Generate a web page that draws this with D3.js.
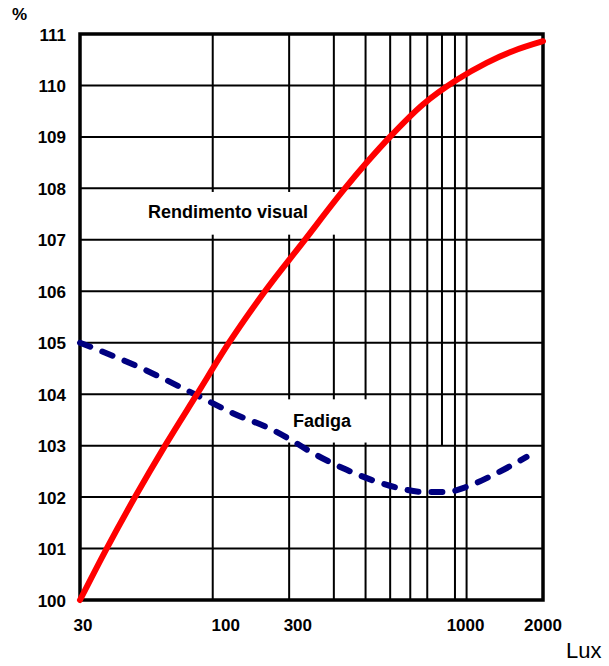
<!DOCTYPE html>
<html>
<head>
<meta charset="utf-8">
<script src="https://cdn.jsdelivr.net/npm/d3@7"></script>
<style>
  html, body { margin: 0; padding: 0; background: #fff; }
  svg { display: block; }
  text { font-family: "Liberation Sans", Arial, sans-serif; }
</style>
</head>
<body>
<svg id="chart" width="609" height="666"></svg>
<script>
// ---- data ----
const luxTicks = [30, 100, 300, 1000, 2000];
const tickLabels = ["30", "100", "300", "1000", "2000"];
const gridLux = [100, 200, 300, 400, 500, 600, 700, 800, 900, 1000];
const percentTicks = [100, 101, 102, 103, 104, 105, 106, 107, 108, 109, 110, 111];

const rendLux = [30, 38.2, 49.4, 64.9, 86.7, 115.9, 160.6, 229, 328, 409, 499, 673, 916, 1199, 1527, 2000];
const rendVal = [100, 101.0, 102.0, 103.0, 104.0, 105.0, 106.0, 106.98, 107.97, 108.53, 109.0, 109.63, 110.11, 110.44, 110.67, 110.86];

const fadLux = [30, 50, 86.5, 120, 173, 205, 249, 337, 442, 546, 675, 834, 1000, 1273, 1723];
const fadVal = [105.0, 104.55, 103.98, 103.63, 103.3, 103.1, 102.85, 102.53, 102.3, 102.17, 102.1, 102.1, 102.2, 102.43, 102.78];

// ---- layout / style ----
const layout = {
  left: 80, right: 543, top: 34, bottom: 600,
  tickLabelNudge: [3, 13, -36, -1, 0],   // pixel nudges of x tick labels as in original
  tickLabelY: 631,
  yLabelX: 66
};

const svg = d3.select("#chart");
const x = d3.scaleLog().domain([30, 2000]).range([layout.left, layout.right]);
const y = d3.scaleLinear().domain([100, 111]).range([layout.bottom, layout.top]);

// vertical grid lines (800 line stops at the 103 level in the original)
const gridStop = {800: 103};
svg.append("g").selectAll("line").data(gridLux).join("line")
  .attr("x1", d => x(d)).attr("x2", d => x(d))
  .attr("y1", y(111))
  .attr("y2", d => gridStop[d] ? y(gridStop[d]) : y(100))
  .attr("stroke", "#000").attr("stroke-width", 2);

// horizontal grid lines
svg.append("g").selectAll("line").data(percentTicks.slice(1, -1)).join("line")
  .attr("x1", x(30)).attr("x2", x(2000))
  .attr("y1", d => y(d)).attr("y2", d => y(d))
  .attr("stroke", "#000").attr("stroke-width", 2);

// white boxes behind the curve labels
svg.append("rect").attr("x", 140).attr("y", y(107.93)).attr("width", 210)
  .attr("height", y(107.1) - y(107.93)).attr("fill", "#fff");
svg.append("rect").attr("x", 280).attr("y", y(103.9)).attr("width", 100)
  .attr("height", y(103.06) - y(103.9)).attr("fill", "#fff");

// frame
svg.append("rect")
  .attr("x", x(30)).attr("y", y(111))
  .attr("width", x(2000) - x(30)).attr("height", y(100) - y(111))
  .attr("fill", "none").attr("stroke", "#000").attr("stroke-width", 3.5);

// curves
const line = d3.line().curve(d3.curveMonotoneX).x(d => x(d[0])).y(d => y(d[1]));

svg.append("path")
  .datum(fadLux.map((l, i) => [l, fadVal[i]]))
  .attr("d", line)
  .attr("fill", "none").attr("stroke", "#000080").attr("stroke-width", 6)
  .attr("stroke-linecap", "round").attr("stroke-dasharray", "11,13");

svg.append("path")
  .datum(rendLux.map((l, i) => [l, rendVal[i]]))
  .attr("d", line)
  .attr("fill", "none").attr("stroke", "#ff0000").attr("stroke-width", 6)
  .attr("stroke-linecap", "round");

// y tick labels
svg.append("g").selectAll("text").data(percentTicks).join("text")
  .attr("x", layout.yLabelX).attr("y", d => y(d) + 6.5)
  .attr("text-anchor", "end")
  .attr("font-size", 17).attr("font-weight", "bold")
  .text(d => d);

// x tick labels
svg.append("g").selectAll("text").data(luxTicks).join("text")
  .attr("x", (d, i) => x(d) + layout.tickLabelNudge[i])
  .attr("y", layout.tickLabelY)
  .attr("text-anchor", "middle")
  .attr("font-size", 17).attr("font-weight", "bold")
  .text((d, i) => tickLabels[i]);

// unit labels
svg.append("text").attr("x", 12).attr("y", 20)
  .attr("font-size", 17).attr("font-weight", "bold").text("%");
svg.append("text").attr("x", 566).attr("y", 658)
  .attr("font-size", 22).text("Lux");

// curve labels
svg.append("text").attr("x", 148).attr("y", 218)
  .attr("font-size", 18).attr("font-weight", "bold").text("Rendimento visual");
svg.append("text").attr("x", 293).attr("y", 427)
  .attr("font-size", 18).attr("font-weight", "bold").text("Fadiga");
</script>
</body>
</html>
